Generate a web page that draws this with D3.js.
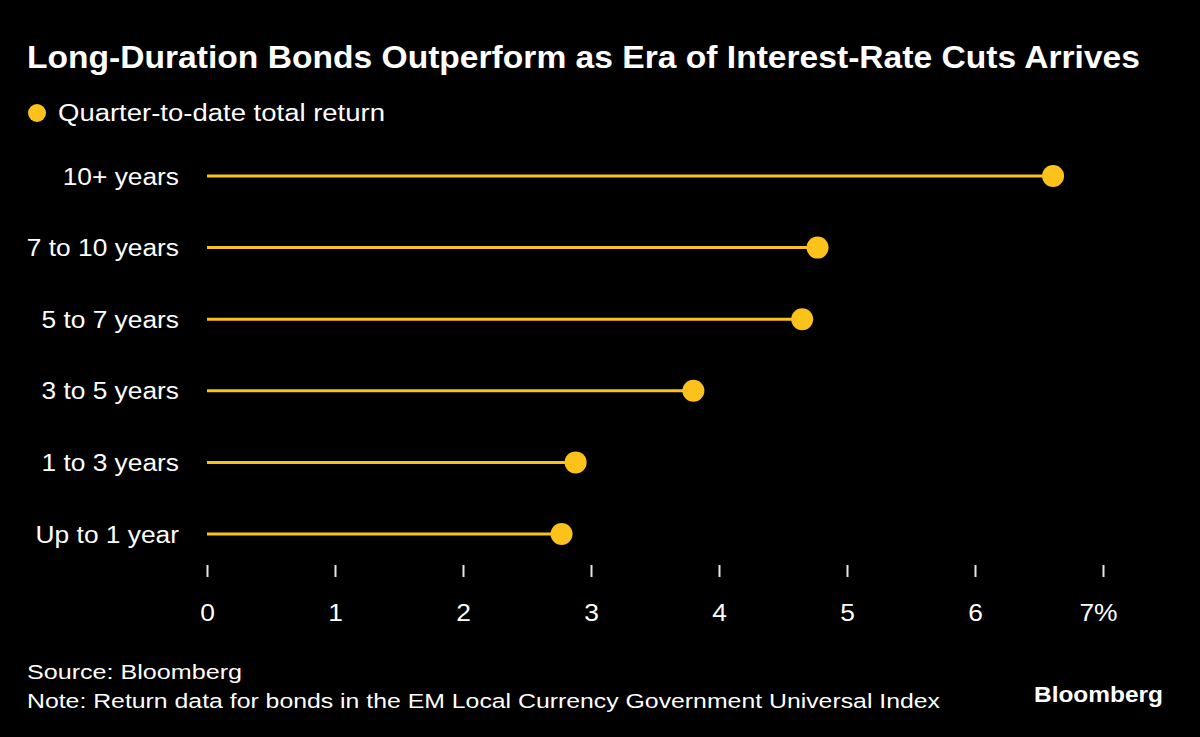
<!DOCTYPE html>
<html><head><meta charset="utf-8">
<script src="https://cdn.jsdelivr.net/npm/d3@7"></script>
<style>
html,body{margin:0;padding:0;background:#000;}
svg{display:block;font-family:"Liberation Sans",Arial,sans-serif;}
</style></head>
<body>
<svg id="chart" width="1200" height="737"></svg>
<script>
const categories = ["10+ years","7 to 10 years","5 to 7 years","3 to 5 years","1 to 3 years","Up to 1 year"];
const values = [6.61, 4.77, 4.65, 3.80, 2.88, 2.77];
const tickValues = [0,1,2,3,4,5,6,7];
const tickLabels = ["0","1","2","3","4","5","6","7%"];

const yellow = "#fbc21b";
const svg = d3.select("#chart");
svg.append("rect").attr("width",1200).attr("height",737).attr("fill","#000");

function stretch(sel, factor){
  sel.each(function(){
    const w = this.getComputedTextLength();
    d3.select(this).attr("textLength", w*factor).attr("lengthAdjust","spacingAndGlyphs");
  });
}

svg.append("text").attr("x",27).attr("y",68).attr("fill","#fff")
  .attr("font-size",30.5).attr("font-weight","bold")
  .attr("textLength",1113).attr("lengthAdjust","spacingAndGlyphs")
  .text("Long-Duration Bonds Outperform as Era of Interest-Rate Cuts Arrives");

svg.append("circle").attr("cx",37).attr("cy",113).attr("r",9).attr("fill",yellow);
svg.append("text").attr("x",58).attr("y",121).attr("fill","#fff").attr("font-size",23.5)
  .attr("textLength",327).attr("lengthAdjust","spacingAndGlyphs")
  .text("Quarter-to-date total return");

const x = d3.scaleLinear().domain([0,7]).range([207,1103]);
const y = d3.scalePoint().domain(categories).range([176,534]);

const rows = categories.map((c,i)=>({c, v: values[i]}));

const cats = svg.selectAll("text.cat").data(rows).enter().append("text")
  .attr("class","cat").attr("x",179).attr("y",d=>y(d.c)+8.5)
  .attr("text-anchor","end").attr("fill","#fff").attr("font-size",23.5)
  .text(d=>d.c);
stretch(cats, 1.12);

svg.selectAll("line.stem").data(rows).enter().append("line")
  .attr("x1",x(0)).attr("x2",d=>x(d.v)).attr("y1",d=>y(d.c)).attr("y2",d=>y(d.c))
  .attr("stroke",yellow).attr("stroke-width",3);

svg.selectAll("circle.dot").data(rows).enter().append("circle")
  .attr("cx",d=>x(d.v)).attr("cy",d=>y(d.c)).attr("r",11).attr("fill",yellow);

const axis = d3.axisBottom(x).tickValues(tickValues).tickSize(0).tickPadding(0)
  .tickFormat((d,i)=>tickLabels[i]);
const ag = svg.append("g").attr("transform","translate(0,565)").call(axis);
ag.select(".domain").remove();
ag.selectAll(".tick line").attr("y1",0).attr("y2",12).attr("stroke","#e6e6e6").attr("stroke-width",2);
const tl = ag.selectAll(".tick text").attr("y",56).attr("dy",null).attr("fill","#fff")
  .attr("font-size",24).attr("font-family","Liberation Sans, Arial, sans-serif")
  .attr("dx",(d,i)=> i===tickLabels.length-1 ? -5 : 0);
stretch(tl, 1.1);

svg.append("text").attr("x",27).attr("y",679).attr("fill","#fff").attr("font-size",20.5)
  .attr("textLength",215).attr("lengthAdjust","spacingAndGlyphs")
  .text("Source: Bloomberg");
svg.append("text").attr("x",27).attr("y",708).attr("fill","#fff").attr("font-size",20.5)
  .attr("textLength",913).attr("lengthAdjust","spacingAndGlyphs")
  .text("Note: Return data for bonds in the EM Local Currency Government Universal Index");
svg.append("text").attr("x",1034).attr("y",702).attr("fill","#fff")
  .attr("font-size",22.5).attr("font-weight","bold")
  .attr("textLength",129).attr("lengthAdjust","spacingAndGlyphs").text("Bloomberg");
</script>
</body></html>
